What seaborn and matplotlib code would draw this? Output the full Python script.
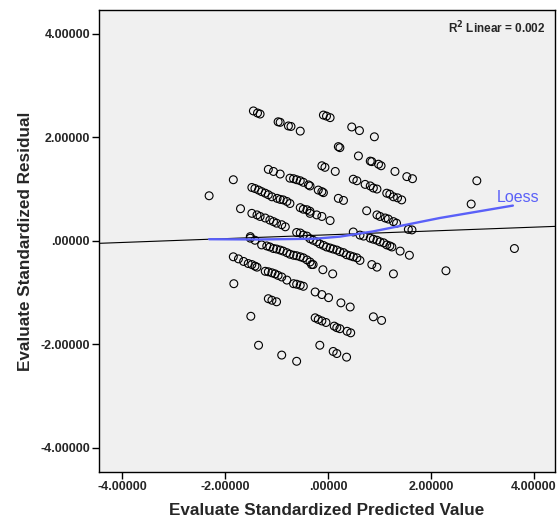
import matplotlib
matplotlib.use("Agg")
import matplotlib.pyplot as plt
from matplotlib.ticker import FuncFormatter
import seaborn as sns
import pandas as pd

# standardized predicted value (x) and standardized residual (y)
pred = [-1.45, -1.37, -1.32, -0.97, -0.93, -0.77, -0.72, -0.54, -0.09, -0.03, 0.04, 0.46, 0.61, 0.90,
        0.20, 0.23, 0.59, 0.82, 0.85, 0.98, 1.03, 1.30, 1.53, 1.64,
        -1.16, -1.06, -0.93, -0.74, -0.67, -0.61, -0.54, -0.48, -0.38,
        -0.12, -0.06, 0.14, 0.49, 0.56, 0.72, 0.82, 0.88, 0.95, 1.14, 1.20, 1.27, 1.35, 1.43, -1.84, -2.31,
        -1.48, -1.42, -1.35, -1.29, -1.22, -1.16, -1.09, -0.99, -0.93, -0.87, -0.80, -0.74, -0.54, -0.48, -0.41, -0.35,
        -0.35, -0.19, -0.12, -0.09, 0.20, 0.30, -0.35, -0.22, -0.12, 0.04, 0.75, 0.95, 1.01, 1.11, 1.17, 1.27, 1.33, -1.70,
        -1.48, -1.38, -1.32, -1.22, -1.13, -1.06, -1.00, -0.90, -0.83, -0.61, -0.54, -0.48, -0.41, -1.51,
        1.56, 1.63, 2.89, 2.78, 3.62, 2.29, -1.51, -1.42,
        -1.29, -1.19, -1.13, -1.06, -1.00, -0.93, -0.87, -0.80, -0.74, -0.67, -0.61, -0.54, -0.48, -0.41, -0.35, -0.29,
        -0.35, -0.29, -0.22, -0.16, -0.09, -0.03, 0.04, 0.10, 0.17, 0.23, 0.30, 0.36, 0.43, 0.49, 0.56, 0.62,
        0.49, 0.62, 0.69, 0.82, 0.88, 0.95, 1.01, 1.08, 1.14, 1.20, 1.24, 1.40, 1.58,
        -1.84, -1.74, -1.64, -1.55, -1.48, -1.42, -1.38,
        -1.22, -1.16, -1.09, -1.03, -0.97, -0.90, -0.80, -0.67, -0.61, -0.54, -0.48,
        -0.32, -0.10, 0.09, 0.85, 0.95, 1.27,
        -0.25, -0.12, 0.01, 0.25, 0.43, 0.88, 1.04, -1.83, -1.16, -1.09, -1.00, -1.50,
        -0.25, -0.19, -0.12, -0.04, 0.12, 0.17, 0.23, 0.37, 0.44, -1.35, -0.90, -0.61, -0.16, 0.10, 0.17, 0.36]
resid = [2.51, 2.47, 2.45, 2.30, 2.29, 2.22, 2.21, 2.12, 2.43, 2.41, 2.38, 2.20, 2.13, 2.01,
         1.82, 1.80, 1.64, 1.54, 1.53, 1.48, 1.45, 1.34, 1.24, 1.20,
         1.38, 1.34, 1.29, 1.21, 1.20, 1.18, 1.16, 1.13, 1.08,
         1.45, 1.42, 1.34, 1.19, 1.16, 1.09, 1.06, 1.02, 1.00, 0.92, 0.90, 0.85, 0.83, 0.79, 1.18, 0.87,
         1.03, 1.01, 0.98, 0.95, 0.92, 0.89, 0.85, 0.82, 0.80, 0.79, 0.76, 0.72, 0.64, 0.61, 0.60, 0.57,
         1.06, 0.98, 0.95, 0.93, 0.82, 0.78, 0.53, 0.50, 0.47, 0.39, 0.58, 0.50, 0.47, 0.44, 0.42, 0.37, 0.34, 0.62,
         0.53, 0.50, 0.47, 0.44, 0.40, 0.37, 0.34, 0.31, 0.27, 0.16, 0.15, 0.11, 0.09, 0.08,
         0.22, 0.21, 1.16, 0.71, -0.15, -0.58, 0.05, 0.01,
         -0.08, -0.10, -0.12, -0.15, -0.16, -0.18, -0.20, -0.23, -0.26, -0.28, -0.29, -0.31, -0.33, -0.37, -0.41, -0.46,
         0.04, 0.01, -0.02, -0.06, -0.09, -0.12, -0.14, -0.16, -0.18, -0.21, -0.23, -0.27, -0.29, -0.31, -0.33, -0.38,
         0.17, 0.11, 0.09, 0.05, 0.03, 0.01, -0.02, -0.04, -0.08, -0.10, -0.12, -0.20, -0.28,
         -0.31, -0.35, -0.40, -0.44, -0.46, -0.49, -0.51,
         -0.59, -0.60, -0.62, -0.64, -0.67, -0.70, -0.76, -0.83, -0.84, -0.86, -0.88,
         -0.46, -0.56, -0.64, -0.46, -0.51, -0.64,
         -0.99, -1.04, -1.10, -1.20, -1.28, -1.47, -1.54, -0.83, -1.12, -1.15, -1.18, -1.46,
         -1.49, -1.52, -1.55, -1.58, -1.65, -1.68, -1.70, -1.75, -1.78, -2.02, -2.21, -2.33, -2.02, -2.14, -2.18, -2.25]

# loess curve as drawn
loess_x = [-2.31, -1.32, -0.25, 0.23, 0.87, 2.17, 3.59]
loess_y = [0.03, 0.025, 0.04, 0.08, 0.18, 0.44, 0.68]

# linear fit line
fit_intercept = 0.115
fit_slope = 0.037
r2_text = r"R$^{\mathbf{2}}$ Linear = 0.002"

ticks = [-4, -2, 0, 2, 4]

df = pd.DataFrame({"pred": pred, "resid": resid})

sns.set_style("white")
plt.rcParams["font.family"] = ["Liberation Sans", "DejaVu Sans"]

fig = plt.figure(figsize=(5.59, 5.19), dpi=100)
ax = fig.add_axes([0.177, 0.0906, 0.816, 0.890])
ax.set_facecolor("#f0f0f0")

sns.scatterplot(data=df, x="pred", y="resid", ax=ax, marker="o", s=32,
                facecolor="none", edgecolor="black", linewidth=0.8, zorder=3)

ax.axline((0, fit_intercept), slope=fit_slope, color="black", lw=0.8, zorder=2)
loess_color = "#5a60f8"
sns.lineplot(x=loess_x, y=loess_y, ax=ax, color=loess_color, lw=1.7, sort=False, zorder=4)
ax.text(3.28, 0.74, "Loess", color=loess_color, fontsize=11.5, ha="left", va="baseline")
ax.text(0.978, 0.962, r2_text, transform=ax.transAxes, fontsize=8.5, fontweight="bold",
        ha="right", va="center")

ax.set_xlim(-4.45, 4.41)
ax.set_ylim(-4.47, 4.46)
ax.set_xticks(ticks)
ax.set_yticks(ticks)


def spss_fmt(v, pos):
    s = f"{v:.5f}"
    if s in ("0.00000", "-0.00000"):
        return ".00000"
    return s


ax.xaxis.set_major_formatter(FuncFormatter(spss_fmt))
ax.yaxis.set_major_formatter(FuncFormatter(spss_fmt))
ax.tick_params(direction="out", length=5, width=1, color="black", labelsize=9, pad=1.5,
               bottom=True, left=True)
for lab in ax.get_xticklabels() + ax.get_yticklabels():
    lab.set_fontweight("bold")
for sp in ax.spines.values():
    sp.set_color("black")
    sp.set_linewidth(1)

ax.set_xlabel("Evaluate Standardized Predicted Value", fontsize=12.3, fontweight="bold", labelpad=7)
ax.set_ylabel("Evaluate Standardized Residual", fontsize=12.3, fontweight="bold", labelpad=5)

fig.savefig("out.png", dpi=100)
